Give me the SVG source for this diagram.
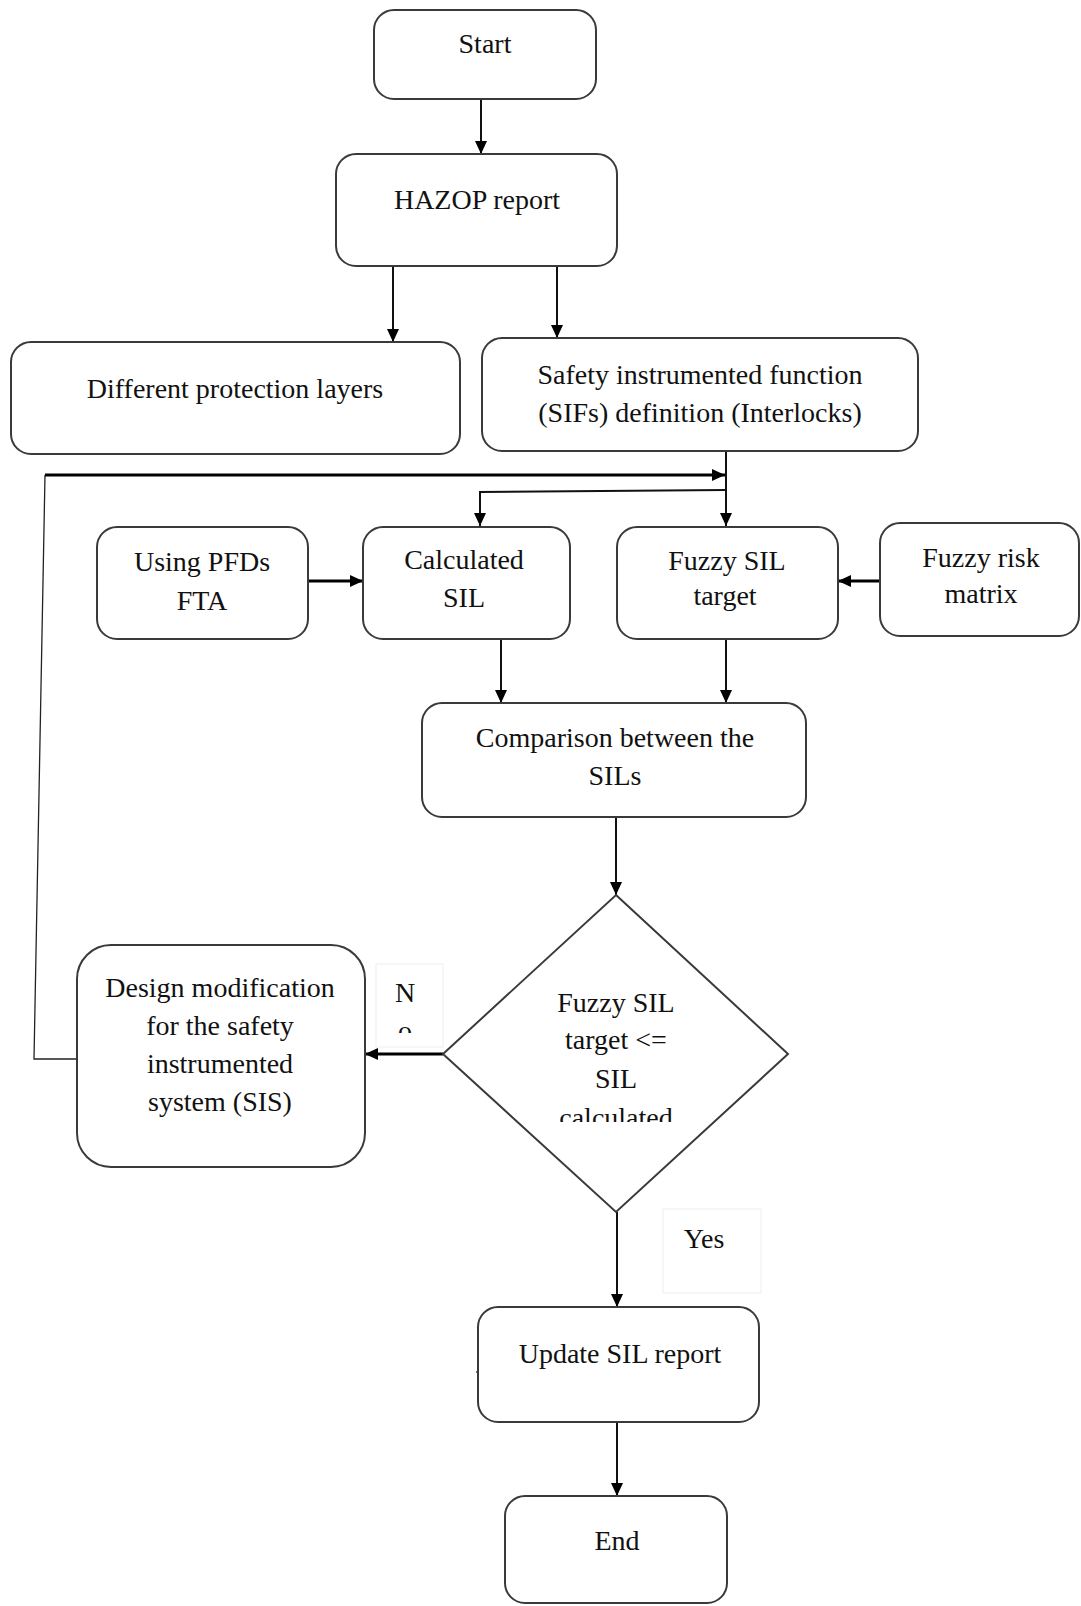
<svg xmlns="http://www.w3.org/2000/svg" width="1081" height="1606" viewBox="0 0 1081 1606">
  <style>
    .box { fill: #ffffff; stroke: #3a3a3a; stroke-width: 2; }
    .lbl { font-family: "Liberation Serif", "Times New Roman", serif; font-size: 28px; fill: #111; text-anchor: middle; }
    .tbox { fill: #ffffff; stroke: #eeeeee; stroke-width: 1; }
    .wire { fill: none; stroke: #111; stroke-width: 2; }
    .wire-thick { fill: none; stroke: #000; stroke-width: 3; }
    .wire-thin { fill: none; stroke: #222; stroke-width: 1.3; }
  </style>
  <defs>
    <marker id="arrow" markerUnits="userSpaceOnUse" markerWidth="14" markerHeight="14" refX="13" refY="6" orient="auto">
      <path d="M0,0 L13,6 L0,12 z" fill="#000"/>
    </marker>
    <clipPath id="clip-no"><rect x="376" y="964" width="67" height="69"/></clipPath>
    <clipPath id="clip-decision"><rect x="500" y="960" width="240" height="162"/></clipPath>
  </defs>

  <rect width="1081" height="1606" fill="#ffffff"/>

  <!-- connectors -->
  <g id="connectors">
    <path class="wire" d="M481,99 L481,154" marker-end="url(#arrow)"/>
    <path class="wire" d="M393,266 L393,342" marker-end="url(#arrow)"/>
    <path class="wire" d="M557,266 L557,338" marker-end="url(#arrow)"/>
    <path class="wire" d="M726,452 L726,526" marker-end="url(#arrow)"/>
    <path class="wire" d="M726,490 L480,492 L480,526" marker-end="url(#arrow)"/>
    <!-- loop back from design modification -->
    <path class="wire-thin" d="M76,1059 L34,1059 L45,475"/>
    <path class="wire-thick" d="M45,475 L725,475" marker-end="url(#arrow)"/>
    <path class="wire-thick" d="M308,581 L363,581" marker-end="url(#arrow)"/>
    <path class="wire-thick" d="M880,581 L838,581" marker-end="url(#arrow)"/>
    <path class="wire" d="M501,639 L501,703" marker-end="url(#arrow)"/>
    <path class="wire" d="M726,639 L726,703" marker-end="url(#arrow)"/>
    <path class="wire" d="M616,817 L616,895" marker-end="url(#arrow)"/>
    <path class="wire-thick" d="M443,1054 L365,1054" marker-end="url(#arrow)"/>
    <path class="wire" d="M617,1212 L617,1307" marker-end="url(#arrow)"/>
    <path class="wire" d="M617,1423 L617,1496" marker-end="url(#arrow)"/>
    <path class="wire-thin" d="M476,1372 L479,1372"/>
  </g>

  <g id="start">
    <rect class="box" x="374" y="10" width="222" height="89" rx="20"/>
    <text class="lbl" x="485" y="53">Start</text>
  </g>

  <g id="hazop">
    <rect class="box" x="336" y="154" width="281" height="112" rx="20"/>
    <text class="lbl" x="477" y="209">HAZOP report</text>
  </g>

  <g id="protection-layers">
    <rect class="box" x="11" y="342" width="449" height="112" rx="20"/>
    <text class="lbl" x="235" y="398">Different protection layers</text>
  </g>

  <g id="sif-definition">
    <rect class="box" x="482" y="338" width="436" height="113" rx="20"/>
    <text class="lbl" x="700" y="384">Safety instrumented function</text>
    <text class="lbl" x="700" y="422">(SIFs) definition (Interlocks)</text>
  </g>

  <g id="pfd-fta">
    <rect class="box" x="97" y="527" width="211" height="112" rx="20"/>
    <text class="lbl" x="202" y="571">Using PFDs</text>
    <text class="lbl" x="202" y="610">FTA</text>
  </g>

  <g id="calculated-sil">
    <rect class="box" x="363" y="527" width="207" height="112" rx="20"/>
    <text class="lbl" x="464" y="569">Calculated</text>
    <text class="lbl" x="464" y="607">SIL</text>
  </g>

  <g id="fuzzy-sil-target">
    <rect class="box" x="617" y="527" width="221" height="112" rx="20"/>
    <text class="lbl" x="727" y="570">Fuzzy SIL</text>
    <text class="lbl" x="725" y="605">target</text>
  </g>

  <g id="fuzzy-risk-matrix">
    <rect class="box" x="880" y="523" width="199" height="113" rx="20"/>
    <text class="lbl" x="981" y="567">Fuzzy risk</text>
    <text class="lbl" x="981" y="603">matrix</text>
  </g>

  <g id="comparison">
    <rect class="box" x="422" y="703" width="384" height="114" rx="20"/>
    <text class="lbl" x="615" y="747">Comparison between the</text>
    <text class="lbl" x="615" y="785">SILs</text>
  </g>

  <g id="decision">
    <polygon class="box" points="616,895 788,1054 616,1212 443,1054"/>
    <g clip-path="url(#clip-decision)">
      <text class="lbl" x="616" y="1012">Fuzzy SIL</text>
      <text class="lbl" x="616" y="1049">target &lt;=</text>
      <text class="lbl" x="616" y="1088">SIL</text>
      <text class="lbl" x="616" y="1127">calculated</text>
    </g>
  </g>

  <g id="label-no">
    <rect class="tbox" x="376" y="964" width="67" height="83"/>
    <g clip-path="url(#clip-no)">
      <text class="lbl" x="405" y="1002">N</text>
      <text class="lbl" x="405" y="1040">o</text>
    </g>
  </g>

  <g id="design-modification">
    <rect class="box" x="77" y="945" width="288" height="222" rx="34"/>
    <text class="lbl" x="220" y="997">Design modification</text>
    <text class="lbl" x="220" y="1035">for the safety</text>
    <text class="lbl" x="220" y="1073">instrumented</text>
    <text class="lbl" x="220" y="1111">system (SIS)</text>
  </g>

  <g id="label-yes">
    <rect class="tbox" x="663" y="1209" width="98" height="84"/>
    <text class="lbl" x="704" y="1248">Yes</text>
  </g>

  <g id="update-sil-report">
    <rect class="box" x="478" y="1307" width="281" height="115" rx="20"/>
    <text class="lbl" x="620" y="1363">Update SIL report</text>
  </g>

  <g id="end">
    <rect class="box" x="505" y="1496" width="222" height="107" rx="20"/>
    <text class="lbl" x="617" y="1550">End</text>
  </g>
</svg>
